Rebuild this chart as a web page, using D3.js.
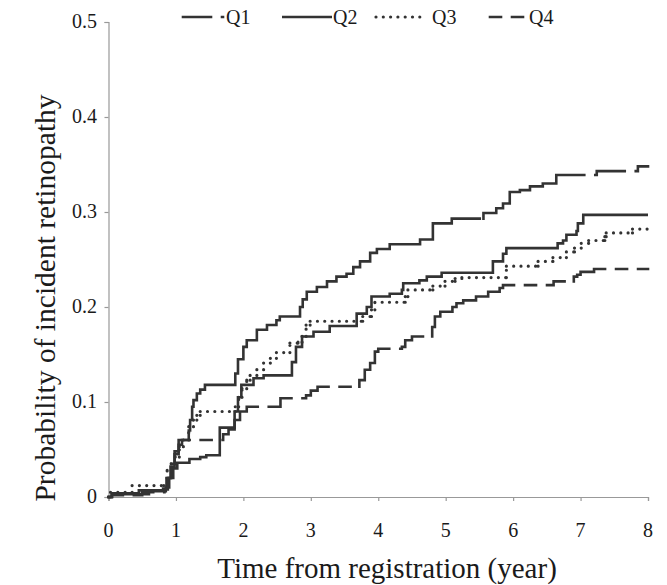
<!DOCTYPE html>
<html>
<head>
<meta charset="utf-8">
<script src="https://cdn.jsdelivr.net/npm/d3@7"></script>
<style>
body { margin: 0; background: #fff; }
</style>
</head>
<body>
<div id="chart"></div>
<script>
// Chart size
var chart_width  = 667;
var chart_height = 585;

// Data: [time in years, probability]
var series_names = ['Q1', 'Q2', 'Q3', 'Q4'];
var x_ticks = [0, 1, 2, 3, 4, 5, 6, 7, 8];
var y_ticks = [0, 0.1, 0.2, 0.3, 0.4, 0.5];
var y_tick_labels = ['0', '0.1', '0.2', '0.3', '0.4', '0.5'];

var q1 = [[0,0],[0.05,0.004],[0.45,0.007],[0.81,0.009],[0.86,0.02],[0.92,0.032],[0.98,0.045],
	[1.04,0.055],[1.09,0.06],[1.19,0.07],[1.21,0.081],[1.24,0.095],[1.26,0.102],[1.31,0.109],
	[1.36,0.113],[1.43,0.118],[1.88,0.13],[1.92,0.145],[2.0,0.158],[2.05,0.165],[2.2,0.176],
	[2.35,0.181],[2.49,0.186],[2.54,0.19],[2.84,0.2],[2.88,0.208],[2.94,0.216],[3.09,0.221],
	[3.24,0.227],[3.38,0.232],[3.53,0.235],[3.63,0.242],[3.73,0.248],[3.88,0.257],[3.98,0.261],
	[4.17,0.266],[4.62,0.271],[4.81,0.288],[5.09,0.293],[5.56,0.299],[5.75,0.304],[5.85,0.309],
	[5.95,0.321],[6.1,0.323],[6.25,0.327],[6.44,0.33],[6.64,0.339],[7.24,0.343],[7.85,0.348],[8.0,0.348]];

var q2 = [[0,0],[0.05,0.003],[0.6,0.006],[0.85,0.01],[0.9,0.02],[0.96,0.03],[1.02,0.036],
	[1.2,0.04],[1.36,0.042],[1.45,0.044],[1.65,0.073],[1.87,0.09],[1.92,0.105],[1.97,0.118],
	[2.15,0.125],[2.3,0.128],[2.72,0.142],[2.78,0.158],[2.87,0.169],[3.04,0.174],[3.28,0.18],
	[3.68,0.193],[3.83,0.2],[3.9,0.211],[4.17,0.214],[4.35,0.218],[4.37,0.225],[4.61,0.228],
	[4.72,0.232],[4.94,0.236],[5.7,0.248],[5.85,0.256],[5.9,0.262],[6.66,0.267],[6.74,0.27],
	[6.79,0.276],[6.94,0.28],[6.96,0.288],[7.04,0.297],[8.0,0.297]];

var q3 = [[0,0],[0.03,0.005],[0.35,0.012],[0.82,0.012],[0.87,0.028],[0.93,0.035],[0.99,0.042],
	[1.05,0.053],[1.11,0.06],[1.19,0.074],[1.26,0.081],[1.31,0.086],[1.36,0.09],[1.88,0.095],
	[1.93,0.105],[1.98,0.114],[2.05,0.123],[2.1,0.128],[2.2,0.134],[2.3,0.141],[2.4,0.146],
	[2.49,0.152],[2.69,0.162],[2.81,0.163],[2.87,0.169],[2.93,0.181],[2.99,0.185],[3.77,0.19],
	[3.9,0.197],[3.95,0.205],[4.4,0.211],[4.44,0.218],[4.81,0.222],[4.99,0.227],[5.14,0.23],
	[5.24,0.231],[5.9,0.243],[6.37,0.248],[6.59,0.252],[6.79,0.258],[6.91,0.262],[7.01,0.267],
	[7.12,0.27],[7.36,0.274],[7.38,0.278],[7.77,0.282],[8.0,0.282]];

var q4 = [[0,0],[0.05,0.002],[0.5,0.005],[0.83,0.008],[0.88,0.02],[0.93,0.035],[0.98,0.048],
	[1.04,0.06],[1.7,0.066],[1.78,0.071],[1.87,0.081],[1.95,0.09],[2.05,0.095],[2.55,0.104],
	[2.93,0.107],[3.0,0.112],[3.1,0.116],[3.72,0.123],[3.8,0.134],[3.88,0.141],[3.95,0.153],
	[4.0,0.156],[4.35,0.158],[4.4,0.165],[4.5,0.169],[4.8,0.179],[4.84,0.19],[4.92,0.195],
	[5.1,0.2],[5.16,0.204],[5.26,0.207],[5.45,0.211],[5.63,0.216],[5.8,0.22],[5.85,0.223],
	[6.6,0.227],[6.9,0.232],[6.95,0.234],[7.0,0.237],[7.2,0.24],[8.0,0.24]];

var all_series = [q1, q2, q3, q4];

// line look for each group
var line_styles = {
	Q1: { dash: '28,11,1,11', cap: 'square', split: true },
	Q2: { dash: null, cap: 'butt', split: false },
	Q3: { dash: '0,7.3', cap: 'round', split: true },
	Q4: { dash: '11,11', cap: 'square', split: true }
};

var serif = 'Liberation Serif';

var svg = d3.select('#chart')
	.append('svg')
	.attr('width', chart_width)
	.attr('height', chart_height);

var x = d3.scaleLinear().domain([0, 8]).range([108.5, 648]);
var y = d3.scaleLinear().domain([0, 0.5]).range([497, 22]);

// Axes (lines and ticks from d3, labels drawn below)
var x_axis = d3.axisBottom(x).tickValues(x_ticks).tickSize(4).tickFormat('');
var y_axis = d3.axisLeft(y).tickValues(y_ticks).tickSize(4).tickFormat('');

var gx = svg.append('g')
	.attr('transform', 'translate(0,' + y(0) + ')')
	.call(x_axis);
var gy = svg.append('g')
	.attr('transform', 'translate(' + x(0) + ',0)')
	.call(y_axis);

[gx, gy].forEach(function(g){
	g.select('.domain').attr('stroke', '#999').attr('stroke-width', 1.2);
	g.selectAll('.tick line').attr('stroke', '#999').attr('stroke-width', 1.2);
});

svg.append('g').selectAll('text')
	.data(x_ticks)
	.enter()
	.append('text')
	.attr('x', function(d){ return x(d); })
	.attr('y', 537)
	.attr('text-anchor', 'middle')
	.attr('font-family', serif)
	.attr('font-size', 20)
	.attr('fill', '#1a1a1a')
	.text(function(d){ return d; });

svg.append('g').selectAll('text')
	.data(y_ticks)
	.enter()
	.append('text')
	.attr('x', 97)
	.attr('y', function(d){ return y(d) + 6; })
	.attr('text-anchor', 'end')
	.attr('font-family', serif)
	.attr('font-size', 20)
	.attr('fill', '#1a1a1a')
	.text(function(d, i){ return y_tick_labels[i]; });

// Axis titles
svg.append('text')
	.attr('x', 387)
	.attr('y', 578)
	.attr('text-anchor', 'middle')
	.attr('font-family', serif)
	.attr('font-size', 29)
	.attr('fill', '#1a1a1a')
	.text('Time from registration (year)');

svg.append('text')
	.attr('transform', 'translate(55,298) rotate(-90)')
	.attr('text-anchor', 'middle')
	.attr('font-family', serif)
	.attr('font-size', 29.5)
	.attr('fill', '#1a1a1a')
	.text('Probability of incident retinopathy');

// Step paths: split ones restart the dash pattern on every segment
function split_steps(data) {
	var d = '';
	for (var i = 0; i < data.length - 1; i++) {
		var x0 = x(data[i][0]), x1 = x(data[i + 1][0]);
		var y0 = y(data[i][1]), y1 = y(data[i + 1][1]);
		if (x1 > x0) d += 'M' + x0 + ',' + y0 + 'H' + x1;
		if (y1 !== y0 && i + 1 < data.length - 1) d += 'M' + x1 + ',' + y0 + 'V' + y1;
	}
	return d;
}

var step_line = d3.line()
	.x(function(d){ return x(d[0]); })
	.y(function(d){ return y(d[1]); })
	.curve(d3.curveStepAfter);

var curves = svg.append('g').attr('id', 'curves');

series_names.forEach(function(name, i){
	var style = line_styles[name];
	curves.append('path')
		.attr('d', style.split ? split_steps(all_series[i]) : step_line(all_series[i]))
		.attr('fill', 'none')
		.attr('stroke', '#333')
		.attr('stroke-width', name === 'Q3' ? 3.2 : 2.6)
		.attr('stroke-linecap', style.cap)
		.attr('stroke-dasharray', style.dash);
});

// Legend
var legend_items = [
	{ name: 'Q1', x1: 183, x2: 224, tx: 226 },
	{ name: 'Q2', x1: 282, x2: 332, tx: 333 },
	{ name: 'Q3', x1: 376, x2: 425, tx: 432 },
	{ name: 'Q4', x1: 490, x2: 525, tx: 529 }
];

var legend = svg.append('g').attr('id', 'legend');

legend_items.forEach(function(item){
	var style = line_styles[item.name];
	legend.append('path')
		.attr('d', 'M' + item.x1 + ',17H' + item.x2)
		.attr('fill', 'none')
		.attr('stroke', '#333')
		.attr('stroke-width', item.name === 'Q3' ? 3.2 : 2.6)
		.attr('stroke-linecap', style.cap)
		.attr('stroke-dasharray', style.dash);
	legend.append('text')
		.attr('x', item.tx)
		.attr('y', 24)
		.attr('font-family', serif)
		.attr('font-size', 20)
		.attr('fill', '#1a1a1a')
		.text(item.name);
});
</script>
</body>
</html>
